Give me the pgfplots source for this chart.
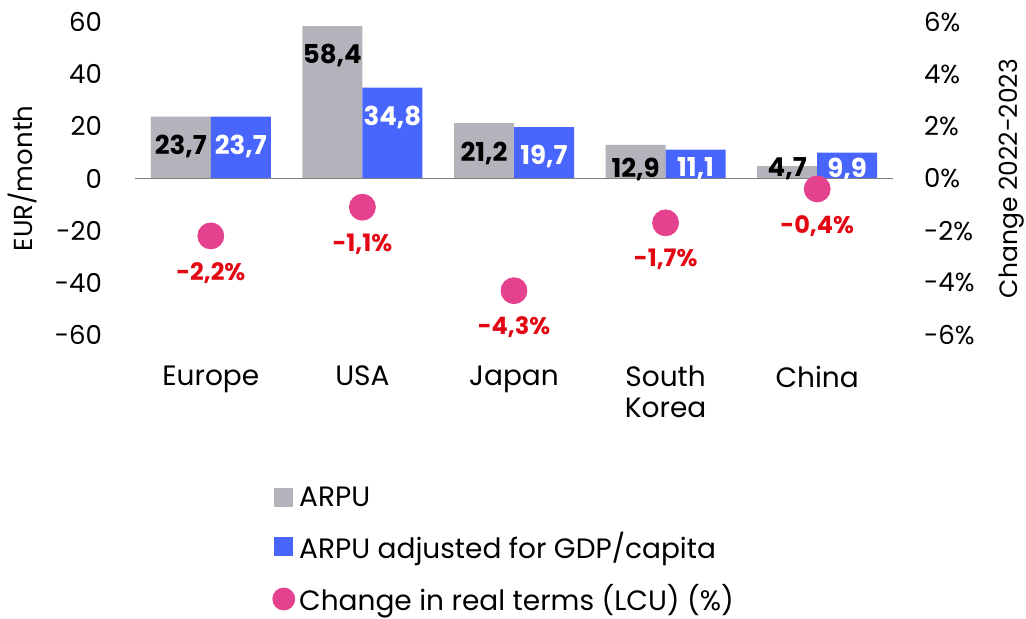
\documentclass[border=0pt]{standalone}
\usepackage{fontspec}
\setmainfont{Poppins}
\usepackage{pgfplots}
\pgfplotsset{compat=1.18}
\definecolor{arpugray}{HTML}{B4B2BB}
\definecolor{arpublue}{HTML}{4866FD}
\definecolor{dotpink}{HTML}{E4418E}
\definecolor{labelred}{HTML}{E30613}
\definecolor{zeroline}{HTML}{808080}

\tikzset{onedec/.style={/pgf/number format/fixed, /pgf/number format/fixed zerofill,
    /pgf/number format/precision=1, /pgf/number format/use comma}}
\pgfplotsset{
  /pgf/number format/assume math mode=true,
  base/.style={
    scale only axis,
    width=379pt, height=156.5pt,
    xmin=-0.5, xmax=4.5,
    axis line style={draw=none},
    major tick length=0pt,
    tick label style={font=\fontsize{13}{15}\selectfont},
  },
}

\begin{document}
\begin{tikzpicture}
\begin{axis}[base,
  ymin=-60, ymax=60,
  ytick={-60,-40,...,60},
  yticklabel style={xshift=-13pt},
  ylabel={EUR/month},
  every axis y label/.style={at={(axis description cs:-0.149,0.5)},rotate=90,anchor=center,
    font=\fontsize{13}{15}\selectfont},
  xtick={0,1,2,3,4},
  xticklabels={Europe,USA,Japan,South\\Korea,China},
  xticklabel style={align=center,yshift=-12pt,font=\fontsize{14}{15.5}\selectfont},
  ybar=0pt, bar width=30pt,
  nodes near coords,
  point meta=y,
  visualization depends on={y \as \rawy},
  every node near coord/.append style={font=\fontsize{13}{14}\selectfont\bfseries,
    anchor=north, inner sep=0pt,
    yshift={max(-9,10.5-1.304*\rawy)}, onedec},
]
\addplot[fill=arpugray, draw=none, every node near coord/.append style={text=black}] coordinates {
(0,23.7) (1,58.4) (2,21.2) (3,12.9) (4,4.7)
};
\addplot[fill=arpublue, draw=none, every node near coord/.append style={text=white}] coordinates {
(0,23.7) (1,34.8) (2,19.7) (3,11.1) (4,9.9)
};
\draw[zeroline, line width=0.8pt] (axis cs:-0.5,0) -- (axis cs:4.5,0);
\end{axis}

\begin{axis}[base,
  ymin=-6, ymax=6,
  ytick={-6,-4,...,6},
  axis y line*=right,
  axis x line=none,
  yticklabel={\pgfmathprintnumber{\tick}\%},
  yticklabel style={xshift=12pt, anchor=west},
  ylabel={Change 2022-2023},
  every axis y label/.style={at={(axis description cs:1.157,0.5)},rotate=90,anchor=center,
    font=\fontsize{12.5}{15}\selectfont},
  legend style={at={(axis description cs:0.1807,-0.47)}, anchor=north west,
    draw=none, fill=none, font=\fontsize{14}{15}\selectfont,
    row sep=7.5pt, inner sep=0pt,
    /tikz/every even column/.append style={column sep=5pt}},
  legend cell align=left,
]
\addlegendimage{legend image code/.code={\fill[arpugray] (0pt,-4.5pt) rectangle (9pt,4.5pt);}}
\addlegendentry{ARPU}
\addlegendimage{legend image code/.code={\fill[arpublue] (0pt,-4.5pt) rectangle (9pt,4.5pt);}}
\addlegendentry{ARPU adjusted for GDP/capita}
\addplot[only marks, mark=*, mark size=6.5pt, color=dotpink,
  legend image code/.code={\fill[dotpink] (4.5pt,0pt) circle (5.5pt);},
  nodes near coords={\pgfmathprintnumber{\pgfplotspointmeta}\%},
  point meta=y,
  every node near coord/.append style={font=\fontsize{12}{14}\selectfont\bfseries,
    text=labelred, anchor=north, inner sep=0pt, yshift=-13pt, onedec},
] coordinates {
(0,-2.2) (1,-1.1) (2,-4.3) (3,-1.7) (4,-0.4)
};
\addlegendentry{Change in real terms (LCU) (\%)}
\end{axis}
\pgfresetboundingbox
\path (-67.5pt,-141.5pt) rectangle (445.5pt,167.5pt);
\end{tikzpicture}
\end{document}
